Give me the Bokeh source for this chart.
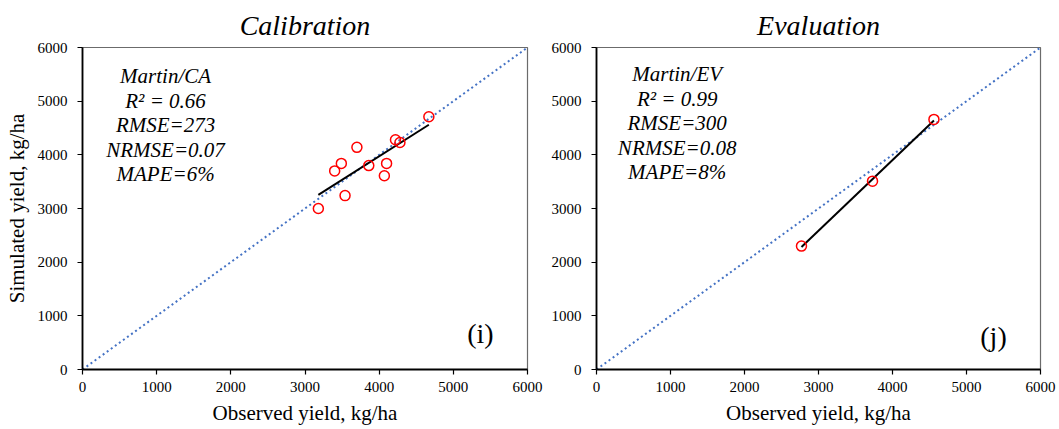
import numpy as np
from bokeh.plotting import figure
from bokeh.layouts import row
from bokeh.models import Range1d, FixedTicker, Title
from bokeh.core.properties import value
from bokeh.embed import file_html
from bokeh.resources import INLINE

# Observed vs simulated yield (kg/ha)
cal_observed = [3180, 3400, 3490, 3540, 3700, 3860, 4070, 4100, 4220, 4280, 4670]
cal_simulated = [3000, 3700, 3840, 3240, 4140, 3800, 3610, 3840, 4280, 4230, 4710]
eval_observed = [2770, 3730, 4560]
eval_simulated = [2300, 3510, 4660]

cal_stats = ["Martin/CA", "R\u00b2 = 0.66", "RMSE=273", "NRMSE=0.07", "MAPE=6%"]
eval_stats = ["Martin/EV", "R\u00b2 = 0.99", "RMSE=300", "NRMSE=0.08", "MAPE=8%"]

axis_ticks = [0, 1000, 2000, 3000, 4000, 5000, 6000]
one_to_one = [0, 6000]

SERIF = "Liberation Serif"


def panel(title, obs, sim, stats, tag, ylabel, border_left, border_right,
          frame_w, stats_x, stats_y0, tag_x, tag_y):
    p = figure(frame_width=frame_w, frame_height=322,
               min_border_left=border_left, min_border_right=border_right,
               min_border_top=47, min_border_bottom=60,
               x_range=Range1d(0, 6000), y_range=Range1d(0, 6000),
               output_backend="svg", toolbar_location=None,
               background_fill_color="white", border_fill_color="white")
    p.title = Title(text=title, align="center", text_font=SERIF,
                    text_font_style="italic", text_font_size="28px",
                    text_color="black", standoff=14)
    p.grid.visible = False
    p.outline_line_color = "#6b6b6b"
    p.outline_line_width = 1.2

    for ax in (p.xaxis[0], p.yaxis[0]):
        ax.ticker = FixedTicker(ticks=axis_ticks)
        ax.minor_tick_line_color = None
        ax.major_tick_in = 0
        ax.major_tick_out = 5
        ax.major_tick_line_color = "black"
        ax.major_tick_line_width = 1.2
        ax.axis_line_color = "black"
        ax.axis_line_width = 1.8
        ax.major_label_text_font = SERIF
        ax.major_label_text_font_size = "15px"
        ax.major_label_text_color = "black"
        ax.axis_label_text_font = SERIF
        ax.axis_label_text_font_size = "21px"
        ax.axis_label_text_font_style = "normal"
        ax.axis_label_text_color = "black"
    p.yaxis.major_label_standoff = 10
    p.xaxis.major_label_standoff = 7
    p.xaxis.axis_label = "Observed yield, kg/ha"
    p.xaxis.axis_label_standoff = 6
    if ylabel:
        p.yaxis.axis_label = "Simulated yield, kg/ha"
        p.yaxis.axis_label_standoff = 6

    # 1:1 reference line
    p.line(one_to_one, one_to_one, line_color="#4472C4", line_width=2,
           line_dash="2 3")

    # least-squares fit across the observed span
    slope, intercept = np.polyfit(obs, sim, 1)
    fx = np.array([min(obs), max(obs)], dtype=float)
    p.line(fx, slope * fx + intercept, line_color="black", line_width=2)

    p.scatter(obs, sim, size=10, marker="circle", fill_color=None,
              line_color="#FF0000", line_width=1.5)

    ys = [stats_y0 - i * 456 for i in range(len(stats))]
    p.text(x=[stats_x] * len(stats), y=ys, text=stats,
           text_font=value(SERIF), text_font_style="italic",
           text_font_size="21px", text_align="center",
           text_baseline="middle", text_color="black")

    p.text(x=[tag_x], y=[tag_y], text=[tag], text_font=value(SERIF),
           text_font_size="28px", text_align="center",
           text_baseline="middle", text_color="black")
    return p


p1 = panel("Calibration", cal_observed, cal_simulated, cal_stats, "(i)",
           True, 82, 20, 445, 1120, 5460, 5365, 670)
p2 = panel("Evaluation", eval_observed, eval_simulated, eval_stats, "(j)",
           False, 49, 19, 444, 1090, 5500, 5365, 620)

layout = row(p1, p2, spacing=0)
open("out.html", "w").write(file_html(layout, INLINE))
